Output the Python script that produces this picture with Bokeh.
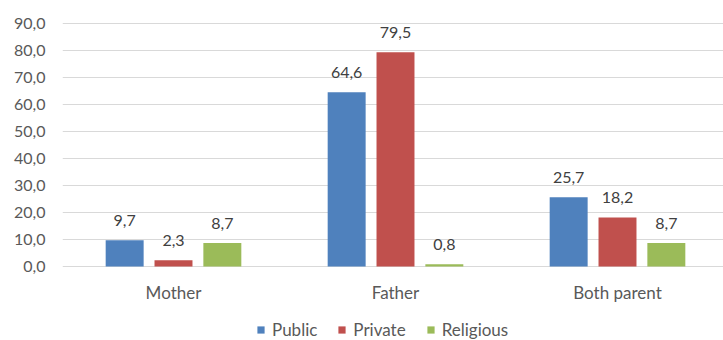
from bokeh.plotting import figure
from bokeh.models import ColumnDataSource, FixedTicker, Legend, LegendItem
from bokeh.core.properties import value
from bokeh.embed import file_html
from bokeh.resources import INLINE

categories = ["Mother", "Father", "Both parent"]
public = [9.7, 64.6, 25.7]
private = [2.3, 79.5, 18.2]
religious = [8.7, 0.8, 8.7]
series_names = ["Public", "Private", "Religious"]
colors = ["#4F81BD", "#C0504D", "#9BBB59"]
y_ticks = [0, 10, 20, 30, 40, 50, 60, 70, 80, 90]

FONT = "Lato"

# frame spans y 18..340; value 0 sits at y=266, 92 at y=18
y_top = 92
y_bottom = -(340 - 266) * y_top / (266 - 18)

p = figure(width=723, height=340, output_backend="svg", toolbar_location=None,
           x_range=(-0.5, -0.5 + 661 / 222), y_range=(y_bottom, y_top),
           min_border_left=62, min_border_right=0, min_border_top=18, min_border_bottom=0)
p.outline_line_color = None
p.background_fill_color = "white"
p.border_fill_color = "white"

offsets = [-0.22, 0.0, 0.22]
renderers = []
for name, vals, col, off in zip(series_names, [public, private, religious], colors, offsets):
    xs = [i + off for i in range(len(categories))]
    src = ColumnDataSource(dict(x=xs, top=vals,
                                lab=[f"{v:.1f}".replace(".", ",") for v in vals]))
    r = p.vbar(x="x", top="top", width=0.171, bottom=0, source=src,
               fill_color=col, line_color=None)
    renderers.append((name, r))
    p.text(x="x", y="top", text="lab", source=src, text_align="center",
           text_baseline="alphabetic", y_offset=-20, text_font=value(FONT),
           text_font_size="16px", text_color="#404040")

# category labels under the zero line
cat_src = ColumnDataSource(dict(x=list(range(len(categories))),
                                y=[0] * len(categories), lab=categories))
p.text(x="x", y="y", text="lab", source=cat_src, text_align="center",
       text_baseline="middle", y_offset=26, text_font=value(FONT),
       text_font_size="17px", text_color="#595959")

p.xaxis.visible = False

p.yaxis.ticker = FixedTicker(ticks=y_ticks)
p.yaxis.major_label_overrides = {t: f"{t:.1f}".replace(".", ",") for t in y_ticks}
p.yaxis.axis_line_color = None
p.yaxis.major_tick_line_color = None
p.yaxis.minor_tick_line_color = None
p.yaxis.major_tick_out = 0
p.yaxis.major_tick_in = 0
p.yaxis.major_label_standoff = 17
p.yaxis.major_label_text_font = FONT
p.yaxis.major_label_text_font_size = "16px"
p.yaxis.major_label_text_color = "#595959"

p.xgrid.grid_line_color = None
p.ygrid.ticker = FixedTicker(ticks=y_ticks)
p.ygrid.grid_line_color = "#D9D9D9"
p.ygrid.grid_line_width = 1

legend = Legend(items=[LegendItem(label=n, renderers=[r]) for n, r in renderers],
                orientation="horizontal", location=(194, 0),
                glyph_width=9, glyph_height=9, label_text_font=FONT,
                label_text_font_size="17px", label_text_color="#595959",
                background_fill_alpha=0, border_line_color=None,
                spacing=20, label_standoff=7, padding=0, margin=0)
p.add_layout(legend, "center")

open("out.html", "w").write(file_html(p, INLINE))
